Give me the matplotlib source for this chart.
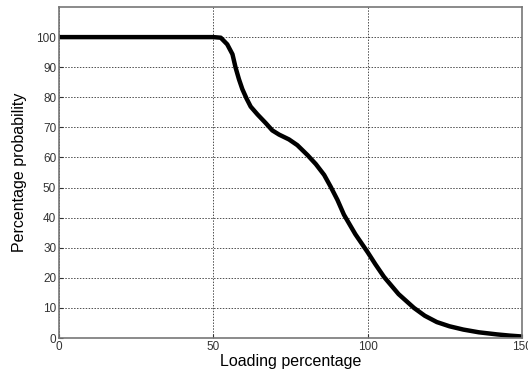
import matplotlib.pyplot as plt

# values
loading = [0, 50, 52.4, 54.5, 56.2, 57.2, 58.3, 59.4, 60.8, 62.1, 64.3, 67, 69.1, 71.3,
           74.5, 77.2, 80.5, 83.2, 85.9, 88, 90.2, 92.3, 96, 100, 102.5, 105.3, 110, 115,
           118.5, 122.4, 126.5, 131, 136, 141.9, 146, 150]
probability = [100, 100, 99.8, 97.6, 94.3, 89.9, 86, 82.7, 79.5, 76.9, 74.3, 71.4, 69,
               67.6, 66, 64.1, 60.8, 57.8, 54.2, 50.3, 45.9, 41, 34.5, 28.5, 24.5, 20.3,
               14.6, 10, 7.4, 5.3, 3.9, 2.8, 1.9, 1.2, 0.8, 0.5]

xticks = [0, 50, 100, 150]
yticks = list(range(0, 101, 10))

plt.rcParams['font.family'] = ['Liberation Sans', 'DejaVu Sans']

fig = plt.figure(figsize=(5.28, 3.77), dpi=100)
ax = fig.add_axes([0.1117, 0.1034, 0.877, 0.878])

ax.plot(loading, probability, color='black', linewidth=3.2, solid_capstyle='butt',
        solid_joinstyle='round')

ax.set_xlim(0, 150)
ax.set_ylim(0, 110)
ax.set_xticks(xticks)
ax.set_yticks(yticks)
ax.grid(True, color='#222222', linestyle=(0, (1.5, 1.5)), linewidth=0.7, alpha=0.8)
ax.tick_params(direction='in', length=3, labelsize=8.5, colors='#333333', pad=2)
for s in ax.spines.values():
    s.set_color('#777777')
    s.set_linewidth(1.2)

ax.set_xlabel('Loading percentage', fontsize=11.5, labelpad=1)
ax.set_ylabel('Percentage probability', fontsize=11.5, labelpad=7)

fig.savefig('out.png', dpi=100)
